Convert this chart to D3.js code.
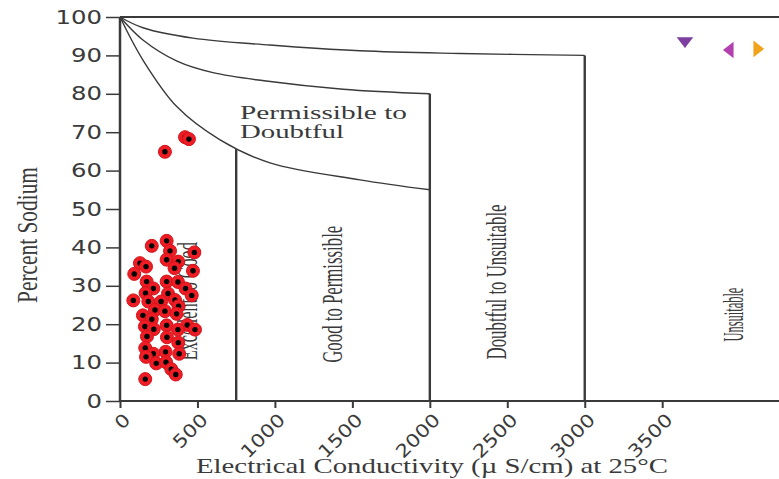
<!DOCTYPE html>
<html>
<head>
<meta charset="utf-8">
<script src="https://cdn.jsdelivr.net/npm/d3@7"></script>
<style>
  body { margin: 0; background: #fff; }
  svg { display: block; }
</style>
</head>
<body>
<div id="chart"></div>
<script>
/* Wilcox diagram: percent sodium against electrical conductivity. */

/* Sample points. */
let ec = [290, 420, 445, 205, 301, 323, 480, 301, 376, 129, 168, 352, 471, 92,
          172, 301, 374, 423, 215, 165, 310, 463, 86, 183, 265, 355, 378, 226,
          290, 148, 365, 205, 434, 161, 301, 374, 484, 218, 174, 303, 376, 163,
          294, 215, 382, 168, 234, 297, 331, 360, 163];
let na = [64.9, 68.7, 68.2, 40.4, 41.7, 39.1, 38.7, 36.8, 36.3, 35.9, 35.0, 34.6,
          33.9, 33.1, 31.1, 31.1, 31.0, 29.3, 29.3, 28.1, 28.0, 27.5, 26.2, 25.9,
          25.9, 26.3, 24.7, 23.7, 23.4, 22.3, 22.7, 21.3, 19.8, 19.4, 19.7, 18.6,
          18.6, 18.7, 16.8, 16.6, 15.2, 13.8, 12.8, 12.3, 12.3, 11.5, 9.8, 10.1,
          8.3, 6.9, 5.7];

/* Three stray markers in the upper right corner. */
let markerEc = [3647, 3938, 4112];
let markerNa = [93.8, 91.4, 91.7];
let markerColor = ["#7d3f9f", "#b43fae", "#f2a31c"];
let markerAngle = [180, -90, 90];

/* Class boundary curves, all starting at (0, 100). */
let curveLowEc = [0, 148, 368, 646, 968, 1549, 2000];
let curveLowNa = [100, 88.8, 76.6, 68, 62, 57.6, 55];
let curveMidEc = [0, 148, 368, 600, 930, 1440, 2000];
let curveMidNa = [100, 94, 88.5, 85.5, 83.4, 81.2, 80];
let curveTopEc = [0, 148, 471, 968, 1549, 2195, 3000];
let curveTopNa = [100, 97.2, 94.5, 92.7, 91.2, 90.5, 90];

/* Vertical class boundaries: conductivity and height. */
let boundEc = [750, 2000, 3000];
let boundTop = [65.6, 80, 90];

/* Axis ticks. */
let xTicks = [0, 500, 1000, 1500, 2000, 2500, 3000, 3500];
let yTicks = [0, 10, 20, 30, 40, 50, 60, 70, 80, 90, 100];

/* Class names written upright in each column. */
let classNames = ["Excellent to Good", "Good to Permissible",
                  "Doubtful to Unsuitable", "Unsuitable"];
let classEc = [430, 1370, 2430, 3960];
let classMid = [26, 27.8, 31, 22.5];
let classLen = [118, 137, 155, 54];

let width = 779, height = 479;
let margin = {top: 17, right: 0, bottom: 78, left: 120};

let xscale = d3.scaleLinear()
    .domain([0, 4254])
    .range([margin.left, width - margin.right]);
let yscale = d3.scaleLinear()
    .domain([0, 100])
    .range([height - margin.bottom, margin.top]);

let svg = d3.select("#chart").append("svg")
    .attr("width", width)
    .attr("height", height);

let ink = "#3a3a3a";
let serif = "'Liberation Serif', 'Times New Roman', serif";
let sans = "'DejaVu Sans', Verdana, sans-serif";

/* Top frame line. */
svg.append("line")
    .attr("x1", xscale(0)).attr("x2", width)
    .attr("y1", yscale(100)).attr("y2", yscale(100))
    .attr("stroke", ink).attr("stroke-width", 2);

/* Boundary curves. */
let line = d3.line().curve(d3.curveCatmullRom.alpha(0.5))
    .x(d => xscale(d[0]))
    .y(d => yscale(d[1]));
[[curveLowEc, curveLowNa], [curveMidEc, curveMidNa], [curveTopEc, curveTopNa]]
    .forEach(c => {
        svg.append("path")
            .attr("d", line(d3.zip(c[0], c[1])))
            .attr("fill", "none")
            .attr("stroke", ink)
            .attr("stroke-width", 1.4);
    });

/* Vertical class boundaries. */
svg.selectAll("line.bound")
    .data(d3.zip(boundEc, boundTop))
    .enter().append("line")
        .attr("class", "bound")
        .attr("x1", d => xscale(d[0])).attr("x2", d => xscale(d[0]))
        .attr("y1", yscale(0)).attr("y2", d => yscale(d[1]))
        .attr("stroke", ink)
        .attr("stroke-width", 2.4);

/* Class labels, rotated to read bottom to top. */
svg.selectAll("text.cls")
    .data(d3.range(classNames.length))
    .enter().append("text")
        .attr("class", "cls")
        .attr("transform", i => "translate(" + (xscale(classEc[i]) + 10) + "," +
              yscale(classMid[i]) + ") rotate(-90)")
        .attr("text-anchor", "middle")
        .attr("font-family", serif)
        .attr("font-size", 29)
        .attr("fill", ink)
        .attr("textLength", i => classLen[i])
        .attr("lengthAdjust", "spacingAndGlyphs")
        .text(i => classNames[i]);

/* Permissible to Doubtful label sits in the curved band. */
let pd = svg.append("text")
    .attr("font-family", serif)
    .attr("font-size", 19)
    .attr("fill", ink);
pd.append("tspan").attr("x", 240).attr("y", 119)
    .attr("textLength", 167).attr("lengthAdjust", "spacingAndGlyphs")
    .text("Permissible to");
pd.append("tspan").attr("x", 240).attr("y", 138)
    .attr("textLength", 104).attr("lengthAdjust", "spacingAndGlyphs")
    .text("Doubtful");

/* Axes. */
let xaxis = d3.axisBottom(xscale).tickValues(xTicks).tickSize(7).tickFormat(d3.format("d"));
let gx = svg.append("g")
    .attr("transform", "translate(0," + yscale(0) + ")")
    .call(xaxis);
gx.select(".domain").attr("d", "M" + xscale(0) + ",0H" + width)
    .attr("stroke", ink).attr("stroke-width", 2);
gx.selectAll(".tick line").attr("stroke", ink).attr("stroke-width", 2);
gx.selectAll(".tick text")
    .attr("fill", ink)
    .attr("font-family", sans)
    .attr("font-size", 18)
    .attr("textLength", d => String(d).length * 13.5)
    .attr("lengthAdjust", "spacingAndGlyphs")
    .attr("text-anchor", "end")
    .attr("dy", null)
    .attr("y", 0)
    .attr("transform", "translate(11,20) rotate(-45)");

let yaxis = d3.axisLeft(yscale).tickValues(yTicks).tickSize(14).tickPadding(4);
let gy = svg.append("g")
    .attr("transform", "translate(" + xscale(0) + ",0)")
    .call(yaxis);
gy.select(".domain").attr("d", "M0," + yscale(100) + "V" + yscale(0))
    .attr("stroke", ink).attr("stroke-width", 2.5);
gy.selectAll(".tick line").attr("stroke", ink).attr("stroke-width", 1.5);
gy.selectAll(".tick text")
    .attr("fill", ink)
    .attr("font-family", sans)
    .attr("font-size", 19)
    .attr("textLength", d => String(d).length * 15.5)
    .attr("lengthAdjust", "spacingAndGlyphs");

/* Axis titles. */
svg.append("text")
    .attr("x", 196).attr("y", 473)
    .attr("font-family", serif)
    .attr("font-size", 21)
    .attr("fill", ink)
    .attr("textLength", 472)
    .attr("lengthAdjust", "spacingAndGlyphs")
    .text("Electrical Conductivity (\u00b5 S/cm) at 25\u00b0C");
svg.append("text")
    .attr("transform", "translate(37,235) rotate(-90)")
    .attr("text-anchor", "middle")
    .attr("font-family", serif)
    .attr("font-size", 29)
    .attr("fill", ink)
    .attr("textLength", 136)
    .attr("lengthAdjust", "spacingAndGlyphs")
    .text("Percent Sodium");

/* Sample points: red disc with a black centre. */
let pts = svg.selectAll("g.pt")
    .data(d3.zip(ec, na))
    .enter().append("g")
        .attr("class", "pt")
        .attr("transform", d => "translate(" + xscale(d[0]) + "," + yscale(d[1]) + ")");
pts.append("circle")
    .attr("r", 6.5)
    .attr("fill", "#ee1c24")
    .attr("stroke", "#d4141b")
    .attr("stroke-width", 1);
pts.append("circle")
    .attr("r", 2.7)
    .attr("fill", "#000");

/* Coloured triangle markers. */
svg.selectAll("path.mk")
    .data(d3.range(markerEc.length))
    .enter().append("path")
        .attr("class", "mk")
        .attr("d", d3.symbol().type(d3.symbolTriangle).size(90))
        .attr("transform", i => "translate(" + xscale(markerEc[i]) + "," +
              yscale(markerNa[i]) + ") rotate(" + markerAngle[i] + ") scale(1.15,0.85)")
        .attr("fill", i => markerColor[i]);
</script>
</body>
</html>
